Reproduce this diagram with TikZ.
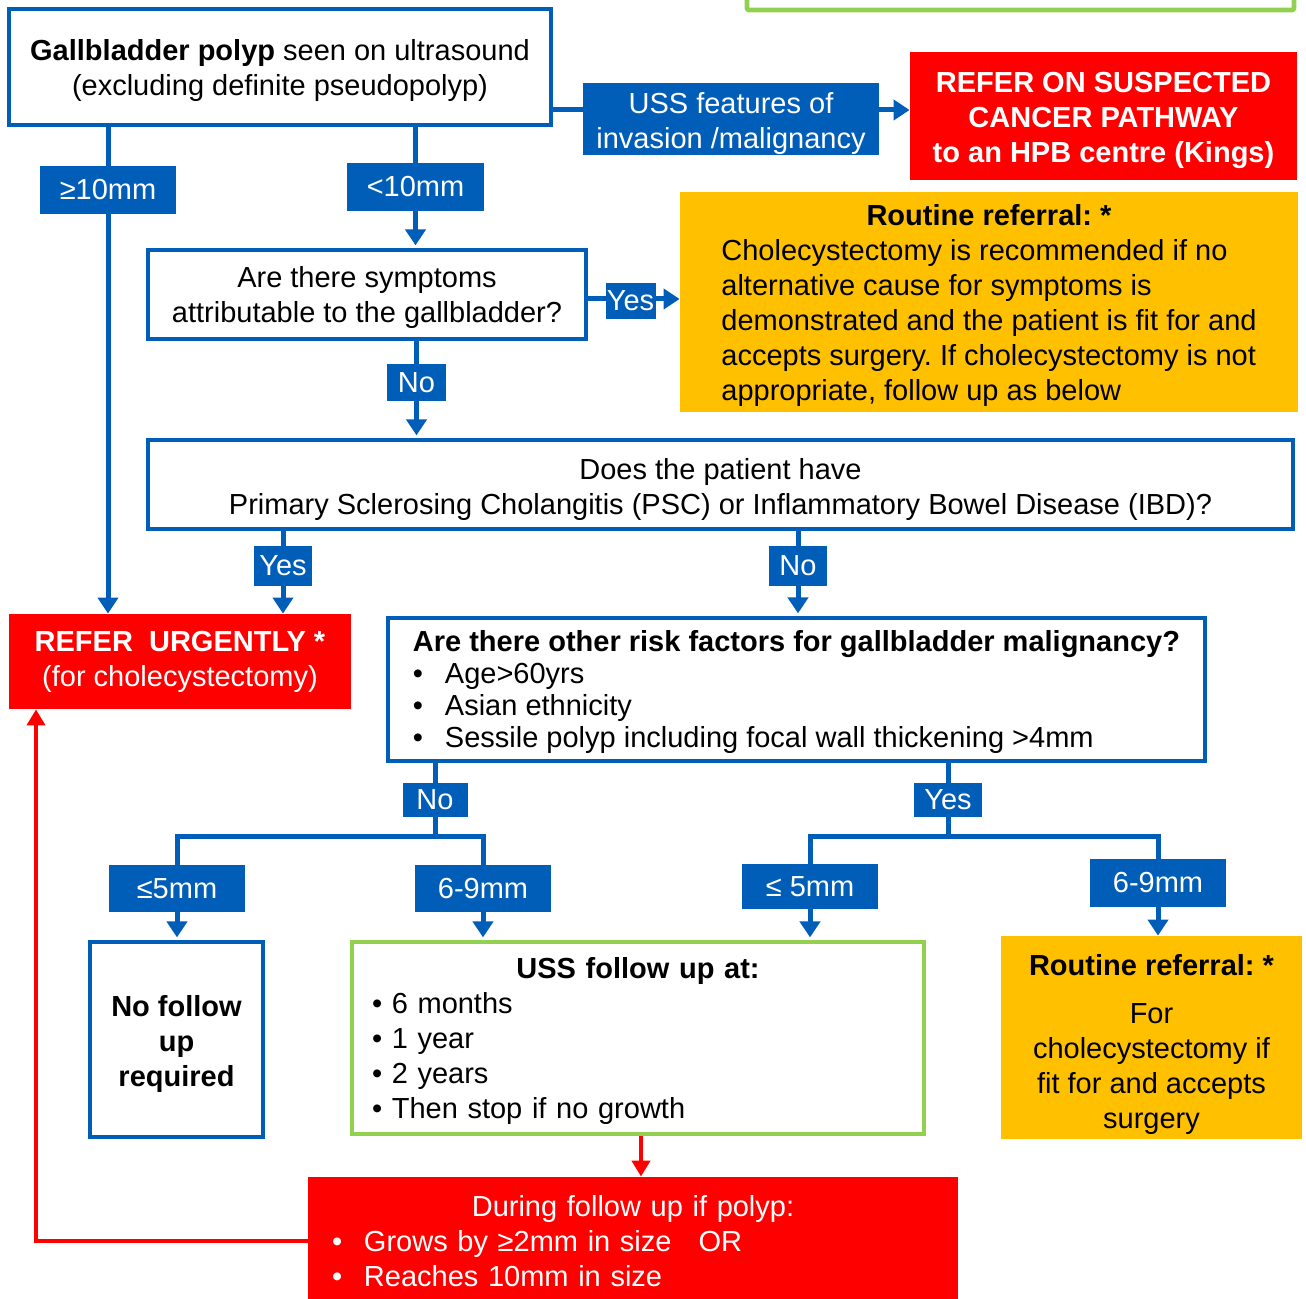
\documentclass[tikz,border=0pt]{standalone}
\usepackage{fontspec}
\setmainfont{Liberation Sans}
\usetikzlibrary{arrows.meta,backgrounds}
\definecolor{nhsblue}{RGB}{0,94,184}
\definecolor{ored}{RGB}{255,0,0}
\definecolor{oamber}{RGB}{255,192,0}
\definecolor{ogreen}{RGB}{146,208,80}
\newcommand\myfs{\fontsize{14.5}{17.5}\selectfont}
\newcommand\myfsr{\fontsize{14.5}{16}\selectfont}
\newcommand\mybul{\makebox[16pt][l]{•}}
\newcommand\tup[1]{\rule{0pt}{#1}}
\frenchspacing
\begin{document}
\frenchspacing
\begin{tikzpicture}[x=0.5pt,y=-0.5pt,
  base/.style={font=\myfs\frenchspacing, inner sep=0pt, align=center, rectangle},
  wbox/.style={base, draw=nhsblue, line width=2.3pt, fill=white},
  gbox/.style={base, draw=ogreen, line width=2.3pt, fill=white},
  rbox/.style={base, fill=ored, text=white},
  abox/.style={base, fill=oamber},
  lbl/.style={base, fill=nhsblue, text=white},
  conn/.style={draw=nhsblue, line width=2.5pt, line join=miter},
  rconn/.style={draw=ored, line width=2pt, line join=miter},
  arr/.style={-{Triangle[width=10pt,length=8pt]}},
  rarr/.style={-{Triangle[width=9pt,length=8pt]}},
  into/.style={shorten >=1.15pt}]
\useasboundingbox (0,0) rectangle (1306,1299);

% partial green box at top
\draw[draw=ogreen, line width=2.3pt, rounded corners=1pt] (747,-12) -- (747,10) -- (1294,10) -- (1294,-12);

% main boxes
\node[wbox, minimum width=271pt, minimum height=58pt] (top) at (280,67)
  {\tup{14.5pt}\textbf{Gallbladder polyp} seen on ultrasound\\(excluding definite pseudopolyp)};
\node[lbl, minimum width=148pt, minimum height=36pt] (uss) at (731,119)
  {\tup{15.5pt}USS features of\\invasion /malignancy};
\node[rbox, font=\myfs\bfseries, minimum width=193.5pt, minimum height=64pt] (cancer) at (1103.5,116)
  {\tup{14.5pt}REFER ON SUSPECTED\\CANCER PATHWAY\\to an HPB centre (Kings)};
\node[abox, minimum width=309pt, minimum height=110pt] (rout1) at (989,302)
  {\raisebox{-2pt}[\height][\depth]{\begin{tabular}{@{}l@{}}\multicolumn{1}{@{}c@{}}{\bfseries Routine referral: *}\\
   Cholecystectomy is recommended if no\\
   alternative cause for symptoms is\\
   demonstrated and the patient is fit for and\\
   accepts surgery. If cholecystectomy is not\\
   appropriate, follow up as below\end{tabular}}};
\node[wbox, minimum width=219pt, minimum height=44.5pt] (symp) at (367,294.5)
  {\tup{13.5pt}Are there symptoms\\attributable to the gallbladder?};
\node[wbox, minimum width=572.5pt, minimum height=44.5pt] (psc) at (720.5,484.5)
  {\tup{15.5pt}Does the patient have\\Primary Sclerosing Cholangitis (PSC) or Inflammatory Bowel Disease (IBD)?};
\node[rbox, minimum width=171pt, minimum height=47.5pt] (urgent) at (180,661.5)
  {\textbf{REFER\ \ URGENTLY *}\\(for cholecystectomy)};
\node[wbox, minimum width=408.5pt, minimum height=71.5pt] (risk) at (796.5,689.5)
  {\myfsr\raisebox{-2pt}[\height][\depth]{\begin{tabular}{@{}l@{}}\multicolumn{1}{@{}c@{}}{\bfseries Are there other risk factors for gallbladder malignancy?}\\
   \mybul Age>60yrs\\
   \mybul Asian ethnicity\\
   \mybul Sessile polyp including focal wall thickening >4mm\end{tabular}}};
\node[wbox, font=\myfs\bfseries, minimum width=86.5pt, minimum height=97.5pt] (nofollow) at (176.5,1039.5)
  {\tup{15pt}No follow\\up\\required};
\node[gbox, minimum width=286pt, minimum height=96pt, text width=266pt, align=left] (green) at (638,1038)
  {\tup{14pt}\makebox[266pt]{\bfseries USS follow up at:}\\• 6 months\\• 1 year\\• 2 years\\• Then stop if no growth};
\node[abox, minimum width=150.5pt, minimum height=101.5pt] (rout2) at (1151.5,1037.5)
  {\tup{17.5pt}\textbf{Routine referral: *}\\[6.5pt]For\\cholecystectomy if\\fit for and accepts\\surgery};
\node[rbox, minimum width=325pt, minimum height=61pt, text width=301pt, align=left] (red3) at (633,1238)
  {\tup{13.5pt}\makebox[301pt]{During follow up if polyp:}\\
   \mybul Grows by ≥2mm in size\hspace{13.5pt}OR\\
   \mybul Reaches 10mm in size};

% labels
\node[lbl, minimum width=68pt, minimum height=24pt] (l10a) at (108,190) {≥10mm};
\node[lbl, minimum width=68.5pt, minimum height=24pt] (l10b) at (415.5,187) {<10mm};
\node[lbl, minimum width=25pt, minimum height=18pt] (yes1) at (630.5,301) {Yes};
\node[lbl, minimum width=29.5pt, minimum height=18.5pt] (no1) at (416.5,382.5) {No};
\node[lbl, minimum width=29pt, minimum height=20pt] (yes2) at (283,566) {Yes};
\node[lbl, minimum width=29pt, minimum height=20pt] (no2) at (798,566) {No};
\node[lbl, minimum width=32.5pt, minimum height=17pt] (no3) at (435,800) {No};
\node[lbl, minimum width=34pt, minimum height=17pt] (yes3) at (948,800) {Yes};
\node[lbl, minimum width=68pt, minimum height=23.5pt] (le5a) at (177,888.5) {≤5mm};
\node[lbl, minimum width=68pt, minimum height=23.5pt] (l69a) at (483,888.5) {6-9mm};
\node[lbl, minimum width=68pt, minimum height=22.5pt] (le5b) at (810,886.5) {≤ 5mm};
\node[lbl, minimum width=68pt, minimum height=24pt] (l69b) at (1158,883) {6-9mm};

% helper coordinates
\coordinate (yUSS) at (0,110);
\coordinate (ySym) at (0,299);
\coordinate (jl) at (435,836);
\coordinate (jr) at (948,836);
\coordinate (xR) at (641,0);
\coordinate (xL) at (36,0);
\coordinate (yRed) at (0,1241);

\begin{pgfonlayer}{background}
\draw[conn,arr] (top.south -| l10a.center) -- (urgent.north -| l10a.center);
\draw[conn,arr,into] (top.south -| l10b.center) -- (symp.north -| l10b.center);
\draw[conn] (top.east |- yUSS) -- (uss.west |- yUSS);
\draw[conn,arr] (uss.east |- yUSS) -- (cancer.west |- yUSS);
\draw[conn,arr] (symp.east |- ySym) -- (rout1.west |- ySym);
\draw[conn,arr,into] (symp.south -| no1.center) -- (psc.north -| no1.center);
\draw[conn,arr] (psc.south -| yes2.center) -- (urgent.north -| yes2.center);
\draw[conn,arr,into] (psc.south -| no2.center) -- (risk.north -| no2.center);
\draw[conn] (risk.south -| jl) -- (jl);
\draw[conn,arr,into] (jl) -- (le5a.center |- jl) -- (nofollow.north -| le5a.center);
\draw[conn,arr,into] (jl) -- (l69a.center |- jl) -- (green.north -| l69a.center);
\draw[conn] (risk.south -| jr) -- (jr);
\draw[conn,arr,into] (jr) -- (le5b.center |- jr) -- (green.north -| le5b.center);
\draw[conn,arr] (jr) -- (l69b.center |- jr) -- (rout2.north -| l69b.center);
\draw[rconn,rarr] (green.south -| xR) -- (red3.north -| xR);
\draw[rconn,rarr] (red3.west |- yRed) -- (xL |- yRed) -- (urgent.south -| xL);
\end{pgfonlayer}
\end{tikzpicture}
\end{document}
